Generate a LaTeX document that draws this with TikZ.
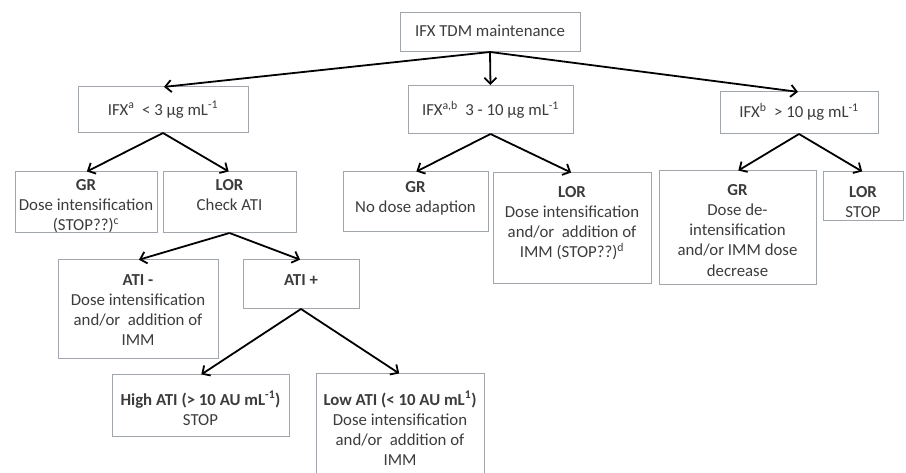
\documentclass[tikz,border=0pt]{standalone}
\usepackage{fontspec}
\setmainfont{Carlito}
\usetikzlibrary{arrows.meta}
\definecolor{boxgray}{RGB}{160,166,172}
\definecolor{txtgray}{RGB}{60,60,60}
\tikzset{
  boxst/.style={draw=boxgray, line width=1pt, inner sep=0pt, outer sep=0pt},
  txt/.style={inner sep=0pt, align=center, text=txtgray, font=\fontsize{16.8}{20.2}\selectfont},
  arr/.style={draw=black, line width=1.8pt, -{Straight Barb[length=6pt,width=12pt,line width=1.8pt]}, shorten >=1pt}
}
\newcommand\bx[7]{%
  \node[boxst, minimum width={(#4-#2)*1pt}, minimum height={(#5-#3)*1pt}, anchor=north west] (#1) at (#2,#3) {};
  \node[txt, anchor=north] (#1t) at ([yshift={-(#6-#3-6)*1pt}]#1.north) {#7};
}
\begin{document}
\begin{tikzpicture}[x=1pt,y=-1pt]
\useasboundingbox (0,0) rectangle (906,473);
\bx{top}{400}{13}{580}{52}{31}{IFX TDM maintenance}
\bx{ia}{78}{87}{248}{133}{107}{IFX\textsuperscript{a}\ \ < 3 µg mL\textsuperscript{-1}}
\bx{ib}{408}{86}{573}{134}{107}{IFX\textsuperscript{a,b}\ \ 3 - 10 µg mL\textsuperscript{-1}}
\bx{ic}{720}{92}{878}{134}{109}{IFX\textsuperscript{b}\ \ > 10 µg mL\textsuperscript{-1}}
\bx{ga}{15}{172}{157}{233}{185}{\textbf{GR}\\Dose intensification\\(STOP??)\textsuperscript{c}}
\bx{la}{163}{172}{296}{233}{185}{\textbf{LOR}\\Check ATI}
\bx{gb}{343}{172}{488}{232}{187}{\textbf{GR}\\No dose adaption}
\bx{lb}{493}{173}{651}{284}{192}{\textbf{LOR}\\Dose intensification\\and/or\ \ addition of\\IMM (STOP??)\textsuperscript{d}}
\bx{gc}{659}{171}{816}{285}{190}{\textbf{GR}\\Dose de-\\intensification\\and/or IMM dose\\decrease}
\bx{lc}{823}{172}{903}{221}{192}{\textbf{LOR}\\STOP}
\bx{am}{58}{260}{218}{359}{280}{\textbf{ATI -}\\Dose intensification\\and/or\ \ addition of\\IMM}
\bx{ap}{243}{260}{359}{309}{280}{\textbf{ATI +}}
\bx{hi}{112}{375}{289}{436}{397}{\textbf{High ATI (> 10 AU mL\textsuperscript{-1})}\\STOP}
\bx{lo}{316}{374}{484}{480}{397}{\textbf{Low ATI (< 10 AU mL\textsuperscript{1})}\\Dose intensification\\and/or\ \ addition of\\IMM}
\draw[arr] (top.south) -- (ia.north);
\draw[arr] (top.south) -- (ib.north);
\draw[arr] (top.south) -- (ic.north);
\draw[arr] (ia.south) -- (ga.north);
\draw[arr] (ia.south) -- (la.north);
\draw[arr] (ib.south) -- (gb.north);
\draw[arr] (ib.south) -- (lb.north);
\draw[arr] (ic.south) -- (gc.north);
\draw[arr] (ic.south) -- (lc.north);
\draw[arr] (la.south) -- (am.north);
\draw[arr] (la.south) -- (ap.north);
\draw[arr] (ap.south) -- (hi.north);
\draw[arr] (ap.south) -- (lo.north);
\end{tikzpicture}
\end{document}
